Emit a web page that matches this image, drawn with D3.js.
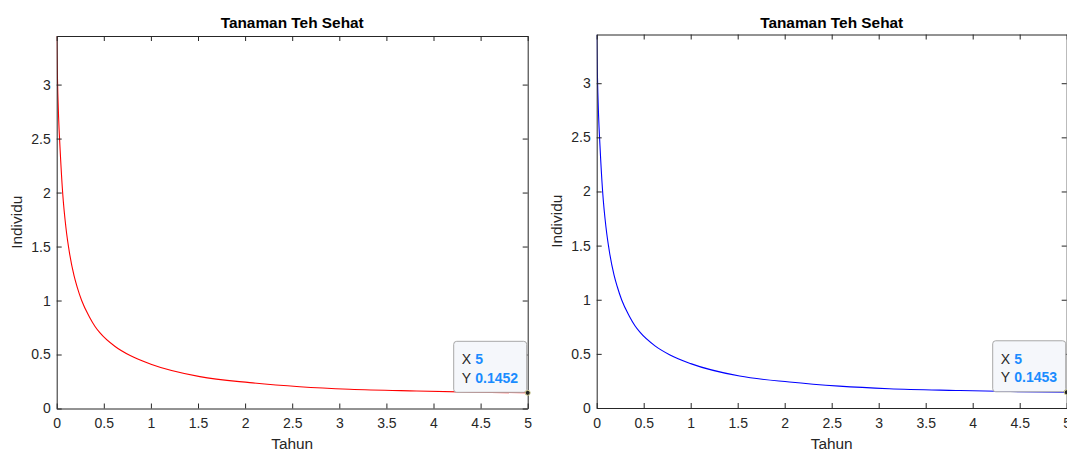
<!DOCTYPE html>
<html lang="en">
<head>
  <meta charset="UTF-8">
  <title>Tanaman Teh Sehat</title>
  <script src="https://d3js.org/d3.v7.min.js"></script>
  <style>
    body { margin: 0; background: #fff; }
    svg { display: block; font-family: "Liberation Sans", Arial, sans-serif; }
    .axis text { font-size: 14px; fill: #262626; }
    .axis path, .axis line { stroke: #262626; stroke-width: 1; }
    .title { font-size: 15.4px; font-weight: bold; fill: #000; }
    .label { font-size: 15.4px; fill: #262626; }
  </style>
</head>
<body>
<script>
// data
var tahun = [0, 0.007, 0.02, 0.035, 0.063, 0.1, 0.134, 0.184, 0.219, 0.265, 0.346, 0.407, 0.46, 0.62, 0.78, 1.0, 1.52, 2.05, 2.58, 3.11, 3.82, 4.4, 5];
var sehatKiri = [3.45, 3.1, 2.7, 2.42, 2.0, 1.66, 1.45, 1.23, 1.12, 1.0, 0.85, 0.76, 0.70, 0.574, 0.49, 0.41, 0.295, 0.24, 0.202, 0.178, 0.162, 0.152, 0.1452];
var sehatKanan = [3.45, 3.1, 2.7, 2.42, 2.0, 1.66, 1.45, 1.23, 1.12, 1.0, 0.85, 0.76, 0.70, 0.574, 0.49, 0.41, 0.295, 0.24, 0.202, 0.178, 0.162, 0.152, 0.1453];
var xTicks = [0, 0.5, 1, 1.5, 2, 2.5, 3, 3.5, 4, 4.5, 5];
var yTicks = [0, 0.5, 1, 1.5, 2, 2.5, 3];
var judul = "Tanaman Teh Sehat";

var W = 1067, H = 453;
var svg = d3.select("body").append("svg")
  .attr("width", W)
  .attr("height", H);

var panels = [
  { left: 56.7, right: 527.7, top: 36, bottom: 408.5, values: sehatKiri, color: "#ff0000" },
  { left: 596.7, right: 1066.7, top: 34.5, bottom: 408, values: sehatKanan, color: "#0000ff" }
];

var fmt = function(d) { return d3.format("")(d); };

panels.forEach(function(p) {
  var x = d3.scaleLinear().domain([0, 5]).range([p.left, p.right]);
  var y = d3.scaleLinear().domain([0, d3.max(p.values)]).range([p.bottom, p.top]);
  var g = svg.append("g");

  // curve (clipped to the axes box)
  var clipId = "clip" + Math.round(p.left);
  svg.append("clipPath").attr("id", clipId)
    .append("rect")
      .attr("x", p.left).attr("y", p.top)
      .attr("width", p.right - p.left).attr("height", p.bottom - p.top);

  var line = d3.line()
    .x(function(d, i) { return x(tahun[i]); })
    .y(function(d) { return y(d); })
    .curve(d3.curveMonotoneX);

  g.append("path")
    .datum(p.values)
    .attr("clip-path", "url(#" + clipId + ")")
    .attr("d", line)
    .attr("fill", "none")
    .attr("stroke", p.color)
    .attr("stroke-width", 1.1);

  // box axes, ticks pointing inward
  g.append("g").attr("class", "axis")
    .attr("transform", "translate(0," + p.bottom + ")")
    .call(d3.axisBottom(x).tickValues(xTicks).tickFormat(fmt).tickSizeInner(-5).tickSizeOuter(0).tickPadding(10));
  g.append("g").attr("class", "axis")
    .attr("transform", "translate(0," + p.top + ")")
    .call(d3.axisTop(x).tickValues(xTicks).tickFormat("").tickSizeInner(-5).tickSizeOuter(0));
  g.append("g").attr("class", "axis")
    .attr("transform", "translate(" + p.left + ",0)")
    .call(d3.axisLeft(y).tickValues(yTicks).tickFormat(fmt).tickSizeInner(-5).tickSizeOuter(0).tickPadding(6));
  g.append("g").attr("class", "axis")
    .attr("transform", "translate(" + p.right + ",0)")
    .call(d3.axisRight(y).tickValues(yTicks).tickFormat("").tickSizeInner(-5).tickSizeOuter(0));
  g.selectAll(".axis text").attr("fill", "#262626");

  // texts
  g.append("text").attr("class", "title")
    .attr("x", (p.left + p.right) / 2).attr("y", 28)
    .attr("text-anchor", "middle")
    .text(judul);
  g.append("text").attr("class", "label")
    .attr("x", (p.left + p.right) / 2).attr("y", 449)
    .attr("text-anchor", "middle")
    .text("Tahun");
  g.append("text").attr("class", "label")
    .attr("transform", "translate(" + (p.left - 35) + "," + ((p.top + p.bottom) / 2) + ") rotate(-90)")
    .attr("text-anchor", "middle")
    .text("Individu");

  // data tip at the last point
  var last = p.values.length - 1;
  var px = x(tahun[last]), py = y(p.values[last]);
  var tip = g.append("g").attr("transform", "translate(" + (px - 74) + "," + (py - 51.5) + ")");
  tip.append("rect")
    .attr("x", 0).attr("y", 0)
    .attr("width", 73).attr("height", 51)
    .attr("rx", 3)
    .attr("fill", "#f5f7fb")
    .attr("stroke", "#a8a8a8");
  var rows = [["X", tahun[last]], ["Y", p.values[last]]];
  rows.forEach(function(r, i) {
    var t = tip.append("text")
      .attr("x", 8).attr("y", 23 + i * 18.5)
      .style("font-size", "14px");
    t.append("tspan").attr("fill", "#262626").text(r[0]);
    t.append("tspan").attr("x", 21.5).attr("fill", "#1a8cff").attr("font-weight", "bold").text(r[1]);
  });
  g.append("circle")
    .attr("cx", px).attr("cy", py).attr("r", 2.5)
    .attr("fill", "#222")
    .attr("stroke", "#d8d49a")
    .attr("stroke-width", 1);
});
</script>
</body>
</html>
